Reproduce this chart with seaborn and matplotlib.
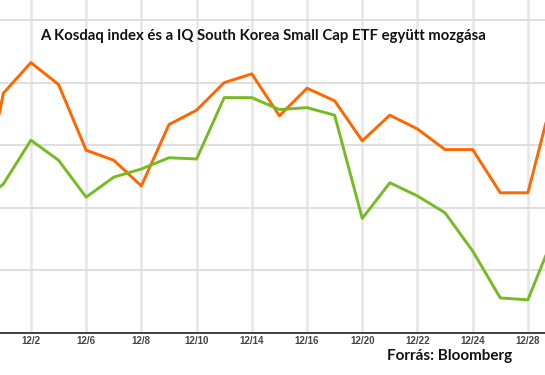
import pandas as pd
import seaborn as sns
import matplotlib.pyplot as plt

# values (relative scale, gridlines at 0..5)
pos = list(range(22))
kosdaq = [1.63, 3.83, 4.32, 3.97, 2.92, 2.76, 2.35, 3.33, 3.56, 4.00, 4.14,
          3.47, 3.91, 3.71, 3.07, 3.48, 3.26, 2.93, 2.93, 2.24, 2.24, 3.95]
etf = [2.01, 2.38, 3.08, 2.76, 2.17, 2.49, 2.62, 2.80, 2.78, 3.76, 3.76,
       3.57, 3.60, 3.48, 1.83, 2.40, 2.19, 1.92, 1.31, 0.56, 0.53, 1.62]
tick_pos = [2, 4, 6, 8, 10, 12, 14, 16, 18, 20]
tick_labels = ["12/2", "12/6", "12/8", "12/10", "12/14", "12/16",
               "12/20", "12/22", "12/24", "12/28"]

df = pd.DataFrame({"pos": pos * 2,
                   "value": kosdaq + etf,
                   "series": ["Kosdaq"] * len(pos) + ["ETF"] * len(pos)})

sns.set_style("white")
plt.rcParams['font.family'] = ['Lato', 'DejaVu Sans']

fig = plt.figure(figsize=(5.45, 3.75), dpi=100)
ax = fig.add_axes([0, 0.112, 1, 0.888])

sns.lineplot(data=df, x="pos", y="value", hue="series",
             palette={"Kosdaq": "#ff6600", "ETF": "#77bb22"},
             linewidth=2.1, legend=False, ax=ax)

ax.set_xlim(0.88, 20.62)
ax.set_ylim(0, 5.32)
ax.set_yticks([0, 1, 2, 3, 4, 5])
ax.set_yticklabels([])
ax.set_xticks(tick_pos)
ax.set_xticklabels(tick_labels, fontsize=7, fontweight="bold", color="#444444",
                   family=['Liberation Sans Narrow', 'Liberation Sans'])
ax.tick_params(axis="both", length=0, pad=2)
ax.set_xlabel("")
ax.set_ylabel("")

ax.grid(axis="y", color="#d9d9d9", linewidth=1.2)
ax.grid(axis="x", color="#e6e6e6", linewidth=1.8)
ax.set_axisbelow(True)

for side in ["top", "left", "right"]:
    ax.spines[side].set_visible(False)
ax.spines["bottom"].set_color("#333333")
ax.spines["bottom"].set_linewidth(1.3)

fig.text(0.482, 0.905, "A Kosdaq index és a IQ South Korea Small Cap ETF együtt mozgása",
         ha="center", va="center", fontsize=10.7, fontweight="bold", color="#111111")
fig.text(0.94, 0.05, "Forrás: Bloomberg", ha="right", va="center",
         fontsize=11, fontweight="bold", color="#111111")

fig.savefig("out.png", dpi=100)
